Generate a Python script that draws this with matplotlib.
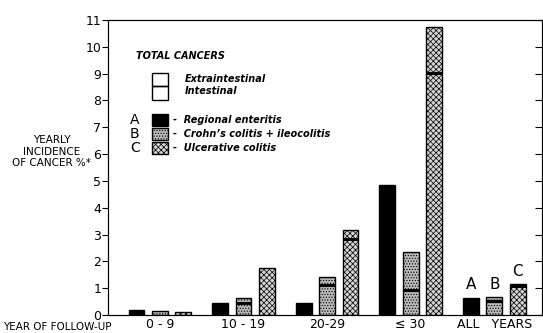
import numpy as np
import matplotlib.pyplot as plt

plt.rcParams['hatch.linewidth'] = 0.5

groups = ['0 - 9', '10 - 19', '20-29', '\u2264 30', 'ALL   YEARS']
enteritis = [0.2, 0.45, 0.45, 4.85, 0.65]
crohn_total = [0.15, 0.63, 1.42, 2.35, 0.67]
crohn_intestinal = [0.15, 0.45, 1.12, 0.93, 0.52]
colitis_total = [0.1, 1.75, 3.17, 10.75, 1.16]
colitis_intestinal = [0.1, 1.75, 2.83, 9.03, 1.08]

x = np.arange(len(groups))
off = 0.28
w = 0.19

fig = plt.figure(figsize=(5.43, 3.33), dpi=100)
ax = fig.add_axes([0.199, 0.054, 0.799, 0.886])

style_b = dict(facecolor='#b8b8b8', edgecolor='black', hatch='......', linewidth=1.0)
style_c = dict(facecolor='#d4d4d4', edgecolor='black', hatch='xxxxxx', linewidth=1.0)

ax.bar(x - off, enteritis, w, color='black', edgecolor='black')
ax.bar(x, crohn_total, w, **style_b)
ax.bar(x + off, colitis_total, w, **style_c)

# intestinal / extraintestinal split line
for xi, v, t in zip(x, crohn_intestinal, crohn_total):
    if v < t:
        ax.plot([xi - w / 2, xi + w / 2], [v, v], color='black', lw=2.2, solid_capstyle='butt')
for xi, v, t in zip(x, colitis_intestinal, colitis_total):
    if v < t:
        ax.plot([xi + off - w / 2, xi + off + w / 2], [v, v], color='black', lw=2.2, solid_capstyle='butt')

# letters over the all-years bars
for dx, lab, v in zip([-off, 0, off], ['A', 'B', 'C'], [enteritis[4], crohn_total[4], colitis_total[4]]):
    ax.text(4 + dx, v + 0.2, lab, ha='center', va='bottom', fontsize=11)

ax.set_xlim(-0.62, 4.57)
ax.set_ylim(0, 11)
ax.set_yticks(range(12))
ax.tick_params(axis='y', direction='out', length=4, labelsize=9, pad=1)
ax.set_xticks(x)
ax.set_xticklabels(groups, fontsize=9)
ax.tick_params(axis='x', length=0, pad=2)

# unlabeled inward ticks on the right side
ax2 = ax.twinx()
ax2.set_ylim(0, 11)
ax2.set_yticks(range(12))
ax2.set_yticklabels([])
ax2.tick_params(axis='y', direction='in', length=5)

fig.text(0.005, 0.004, 'YEAR OF FOLLOW-UP', fontsize=7.5, ha='left', va='bottom')
fig.text(0.095, 0.545, 'YEARLY\nINCIDENCE\nOF CANCER %*', fontsize=7.5,
         ha='center', va='center', linespacing=1.2)

# legend drawn by hand
ax.text(-0.28, 9.66, 'TOTAL CANCERS', fontsize=7, style='italic', weight='bold', va='center')
ax.add_patch(plt.Rectangle((-w / 2, 8.02), w, 0.5, fill=False, lw=1.0))
ax.add_patch(plt.Rectangle((-w / 2, 8.52), w, 0.5, fill=False, lw=1.0))
ax.text(0.3, 8.8, 'Extraintestinal', fontsize=7, style='italic', weight='bold', va='center')
ax.text(0.3, 8.36, 'Intestinal', fontsize=7, style='italic', weight='bold', va='center')

rows = [('A', '-  Regional enteritis', dict(facecolor='black', edgecolor='black')),
        ('B', '-  Crohn\u2019s colitis + ileocolitis', style_b),
        ('C', '-  Ulcerative colitis', style_c)]
for i, (lab, txt, st) in enumerate(rows):
    yy = 7.28 - i * 0.52
    ax.text(-0.3, yy, lab, fontsize=10, va='center', ha='center')
    ax.add_patch(plt.Rectangle((-w / 2, yy - 0.22), w, 0.44, **st))
    ax.text(0.16, yy, txt, fontsize=7, style='italic', weight='bold', va='center')

fig.savefig('out.png', dpi=100)
